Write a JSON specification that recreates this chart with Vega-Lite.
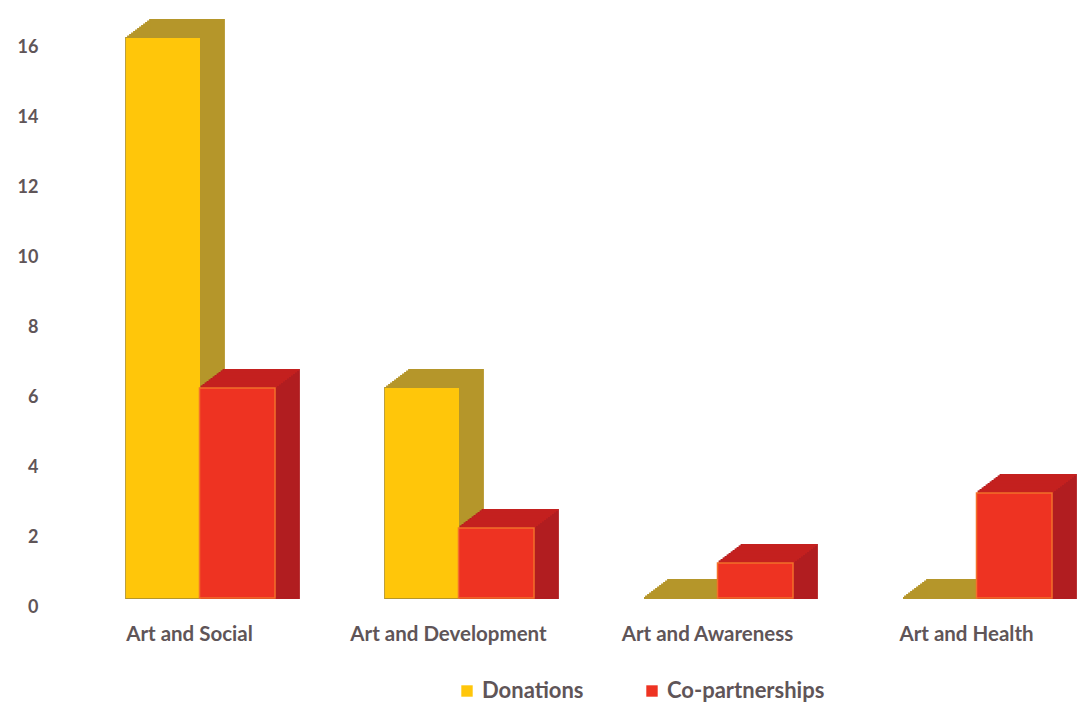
{
"$schema":"https://vega.github.io/schema/vega-lite/v6.json",
"autosize":{"type":"none"},
"padding":{"left":70,"top":38,"right":0,"bottom":105},
"width":1010,"height":560,
"background":"#ffffff",
"data":{"values":[
{"category":"Art and Social","series":"Donations","value":16},
{"category":"Art and Social","series":"Co-partnerships","value":6},
{"category":"Art and Development","series":"Donations","value":6},
{"category":"Art and Development","series":"Co-partnerships","value":2},
{"category":"Art and Awareness","series":"Donations","value":0},
{"category":"Art and Awareness","series":"Co-partnerships","value":1},
{"category":"Art and Health","series":"Donations","value":0},
{"category":"Art and Health","series":"Co-partnerships","value":3}
]},
"config":{"view":{"stroke":null}},
"encoding":{
"x":{"field":"category","type":"nominal","sort":null,"title":null,
"scale":{"range":[0,1036],"paddingInner":0.417,"paddingOuter":0.2085},
"axis":{"domain":false,"ticks":false,"labelAngle":0,"labelPadding":26,"labelOffset":-10,"labelFont":"Lato","labelFontWeight":"bold","labelFontSize":20.5,"labelColor":"#5f5558","labelLimit":300}},
"y":{"field":"value","type":"quantitative","stack":null,"title":null,
"scale":{"domain":[0,16],"nice":false},
"axis":{"domain":false,"ticks":false,"grid":false,"values":[0,2,4,6,8,10,12,14,16],"labelOffset":9,"labelPadding":32,"labelFont":"Lato","labelFontWeight":"bold","labelFontSize":18,"labelColor":"#5f5558"}}
},
"layer":[
{"transform":[{"filter":"datum.series==='Donations'"}],"layer":[
{"mark":{"type":"bar","width":74,"fill":"#B5962A","stroke":"#B5962A","strokeWidth":1.8,"xOffset":-34.5,"yOffset":-1.5,"y2Offset":-1.5}},
{"mark":{"type":"bar","width":74,"fill":"#B5962A","stroke":"#B5962A","strokeWidth":1.8,"xOffset":-32.5,"yOffset":-3,"y2Offset":-3}},
{"mark":{"type":"bar","width":74,"fill":"#B5962A","stroke":"#B5962A","strokeWidth":1.8,"xOffset":-30.5,"yOffset":-4.5,"y2Offset":-4.5}},
{"mark":{"type":"bar","width":74,"fill":"#B5962A","stroke":"#B5962A","strokeWidth":1.8,"xOffset":-28.5,"yOffset":-6,"y2Offset":-6}},
{"mark":{"type":"bar","width":74,"fill":"#B5962A","stroke":"#B5962A","strokeWidth":1.8,"xOffset":-26.5,"yOffset":-7.5,"y2Offset":-7.5}},
{"mark":{"type":"bar","width":74,"fill":"#B5962A","stroke":"#B5962A","strokeWidth":1.8,"xOffset":-24.5,"yOffset":-9,"y2Offset":-9}},
{"mark":{"type":"bar","width":74,"fill":"#B5962A","stroke":"#B5962A","strokeWidth":1.8,"xOffset":-22.5,"yOffset":-10.5,"y2Offset":-10.5}},
{"mark":{"type":"bar","width":74,"fill":"#B5962A","stroke":"#B5962A","strokeWidth":1.8,"xOffset":-20.5,"yOffset":-12,"y2Offset":-12}},
{"mark":{"type":"bar","width":74,"fill":"#B5962A","stroke":"#B5962A","strokeWidth":1.8,"xOffset":-18.5,"yOffset":-13.5,"y2Offset":-13.5}},
{"mark":{"type":"bar","width":74,"fill":"#B5962A","stroke":"#B5962A","strokeWidth":1.8,"xOffset":-16.5,"yOffset":-15,"y2Offset":-15}},
{"mark":{"type":"bar","width":74,"fill":"#B5962A","stroke":"#B5962A","strokeWidth":1.8,"xOffset":-14.5,"yOffset":-16.5,"y2Offset":-16.5}},
{"mark":{"type":"bar","width":74,"fill":"#B5962A","stroke":"#B5962A","strokeWidth":1.8,"xOffset":-12.5,"yOffset":-18,"y2Offset":-18}},
{"mark":{"type":"bar","width":74,"fill":"#B5962A","stroke":"#B5962A","strokeWidth":1.8,"xOffset":-36.5}},
{"transform":[{"filter":"datum.value>0"}],"mark":{"type":"bar","width":74,"xOffset":-36.5},"encoding":{"color":{"field":"series","type":"nominal","sort":["Donations","Co-partnerships"],"scale":{"domain":["Donations","Co-partnerships"],"range":["#FFC60A","#EE3322"]},"title":null,"legend":{"orient":"none","legendX":386,"legendY":642,"direction":"horizontal","symbolType":"square","symbolSize":130,"symbolStrokeWidth":0,"labelFont":"Lato","labelFontWeight":"bold","labelFontSize":22,"labelColor":"#5f5558","columnPadding":57,"labelLimit":300,"symbolOpacity":1}}}}
]},
{"transform":[{"filter":"datum.series==='Co-partnerships'"}],"layer":[
{"mark":{"type":"bar","width":75.5,"fill":"#B11D20","stroke":"#B11D20","strokeWidth":1.8,"xOffset":39.75,"yOffset":-1.5,"y2Offset":-1.5}},
{"mark":{"type":"bar","width":75.5,"fill":"#B11D20","stroke":"#B11D20","strokeWidth":1.8,"xOffset":41.75,"yOffset":-3,"y2Offset":-3}},
{"mark":{"type":"bar","width":75.5,"fill":"#B11D20","stroke":"#B11D20","strokeWidth":1.8,"xOffset":43.75,"yOffset":-4.5,"y2Offset":-4.5}},
{"mark":{"type":"bar","width":75.5,"fill":"#B11D20","stroke":"#B11D20","strokeWidth":1.8,"xOffset":45.75,"yOffset":-6,"y2Offset":-6}},
{"mark":{"type":"bar","width":75.5,"fill":"#B11D20","stroke":"#B11D20","strokeWidth":1.8,"xOffset":47.75,"yOffset":-7.5,"y2Offset":-7.5}},
{"mark":{"type":"bar","width":75.5,"fill":"#B11D20","stroke":"#B11D20","strokeWidth":1.8,"xOffset":49.75,"yOffset":-9,"y2Offset":-9}},
{"mark":{"type":"bar","width":75.5,"fill":"#B11D20","stroke":"#B11D20","strokeWidth":1.8,"xOffset":51.75,"yOffset":-10.5,"y2Offset":-10.5}},
{"mark":{"type":"bar","width":75.5,"fill":"#B11D20","stroke":"#B11D20","strokeWidth":1.8,"xOffset":53.75,"yOffset":-12,"y2Offset":-12}},
{"mark":{"type":"bar","width":75.5,"fill":"#B11D20","stroke":"#B11D20","strokeWidth":1.8,"xOffset":55.75,"yOffset":-13.5,"y2Offset":-13.5}},
{"mark":{"type":"bar","width":75.5,"fill":"#B11D20","stroke":"#B11D20","strokeWidth":1.8,"xOffset":57.75,"yOffset":-15,"y2Offset":-15}},
{"mark":{"type":"bar","width":75.5,"fill":"#B11D20","stroke":"#B11D20","strokeWidth":1.8,"xOffset":59.75,"yOffset":-16.5,"y2Offset":-16.5}},
{"mark":{"type":"bar","width":75.5,"fill":"#B11D20","stroke":"#B11D20","strokeWidth":1.8,"xOffset":61.75,"yOffset":-18,"y2Offset":-18}},
{"mark":{"type":"bar","width":75.5,"fill":"#C4201F","stroke":"#C4201F","strokeWidth":1.8,"xOffset":39.75,"yOffset":-1.5,"y2Offset":-1.5},"encoding":{"y2":{"field":"value"}}},
{"mark":{"type":"bar","width":75.5,"fill":"#C4201F","stroke":"#C4201F","strokeWidth":1.8,"xOffset":41.75,"yOffset":-3,"y2Offset":-3},"encoding":{"y2":{"field":"value"}}},
{"mark":{"type":"bar","width":75.5,"fill":"#C4201F","stroke":"#C4201F","strokeWidth":1.8,"xOffset":43.75,"yOffset":-4.5,"y2Offset":-4.5},"encoding":{"y2":{"field":"value"}}},
{"mark":{"type":"bar","width":75.5,"fill":"#C4201F","stroke":"#C4201F","strokeWidth":1.8,"xOffset":45.75,"yOffset":-6,"y2Offset":-6},"encoding":{"y2":{"field":"value"}}},
{"mark":{"type":"bar","width":75.5,"fill":"#C4201F","stroke":"#C4201F","strokeWidth":1.8,"xOffset":47.75,"yOffset":-7.5,"y2Offset":-7.5},"encoding":{"y2":{"field":"value"}}},
{"mark":{"type":"bar","width":75.5,"fill":"#C4201F","stroke":"#C4201F","strokeWidth":1.8,"xOffset":49.75,"yOffset":-9,"y2Offset":-9},"encoding":{"y2":{"field":"value"}}},
{"mark":{"type":"bar","width":75.5,"fill":"#C4201F","stroke":"#C4201F","strokeWidth":1.8,"xOffset":51.75,"yOffset":-10.5,"y2Offset":-10.5},"encoding":{"y2":{"field":"value"}}},
{"mark":{"type":"bar","width":75.5,"fill":"#C4201F","stroke":"#C4201F","strokeWidth":1.8,"xOffset":53.75,"yOffset":-12,"y2Offset":-12},"encoding":{"y2":{"field":"value"}}},
{"mark":{"type":"bar","width":75.5,"fill":"#C4201F","stroke":"#C4201F","strokeWidth":1.8,"xOffset":55.75,"yOffset":-13.5,"y2Offset":-13.5},"encoding":{"y2":{"field":"value"}}},
{"mark":{"type":"bar","width":75.5,"fill":"#C4201F","stroke":"#C4201F","strokeWidth":1.8,"xOffset":57.75,"yOffset":-15,"y2Offset":-15},"encoding":{"y2":{"field":"value"}}},
{"mark":{"type":"bar","width":75.5,"fill":"#C4201F","stroke":"#C4201F","strokeWidth":1.8,"xOffset":59.75,"yOffset":-16.5,"y2Offset":-16.5},"encoding":{"y2":{"field":"value"}}},
{"mark":{"type":"bar","width":75.5,"fill":"#C4201F","stroke":"#C4201F","strokeWidth":1.8,"xOffset":61.75,"yOffset":-18,"y2Offset":-18},"encoding":{"y2":{"field":"value"}}},
{"mark":{"type":"bar","width":75.5,"stroke":"#F4702A","strokeWidth":1.5,"xOffset":37.75},"encoding":{"color":{"field":"series","type":"nominal"}}}
]}
]
}
